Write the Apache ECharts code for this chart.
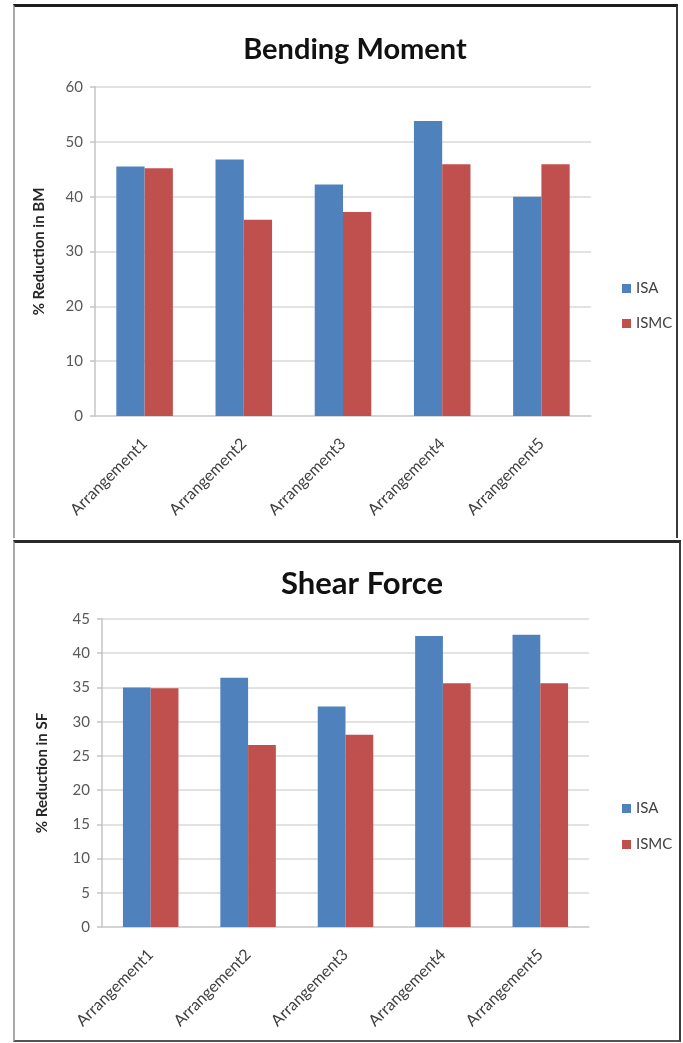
<!DOCTYPE html>
<html>
<head>
<meta charset="utf-8">
<script src="https://cdn.jsdelivr.net/npm/echarts@6/dist/echarts.min.js"></script>
<style>
  html, body { margin: 0; padding: 0; background: #ffffff; }
  body { width: 683px; height: 1043px; position: relative; overflow: hidden; }
  .panel { position: absolute; box-sizing: border-box; z-index: 0; }
  #p1 { left: 13px; top: 4px; width: 665px; height: 534px;
        border-top: 3px solid #1c1c1c; border-left: 2px solid #a8a8a8; border-right: 2px solid #3a3a3a; }
  #p2 { left: 13px; top: 540px; width: 668px; height: 502px;
        border-top: 3px solid #2a2a2a; border-left: 2px solid #a8a8a8; border-right: 2px solid #3a3a3a; border-bottom: 2px solid #555; }
  #chart { position: absolute; left: 0; top: 0; width: 683px; height: 1043px; z-index: 1; }
</style>
</head>
<body>
<div class="panel" id="p1"></div>
<div class="panel" id="p2"></div>
<div id="chart"></div>
<script>
// ---- data ----
var categories = ['Arrangement1', 'Arrangement2', 'Arrangement3', 'Arrangement4', 'Arrangement5'];
var seriesNames = ['ISA', 'ISMC'];
var bmISA  = [45.5, 46.8, 42.2, 53.8, 40.0];
var bmISMC = [45.2, 35.8, 37.2, 45.9, 45.9];
var sfISA  = [35.0, 36.4, 32.2, 42.5, 42.7];
var sfISMC = [34.9, 26.6, 28.1, 35.6, 35.6];
var bmTicks = { min: 0, max: 60, interval: 10 };
var sfTicks = { min: 0, max: 45, interval: 5 };
var titles = ['Bending Moment', 'Shear Force'];
var yNames = ['% Reduction in BM', '% Reduction in SF'];

var FONT = 'Lato, "Open Sans", sans-serif';
var BLUE = '#4F81BD', RED = '#C0504D';

function yAxis(idx, ticks, name, gap) {
  return {
    type: 'value', gridIndex: idx, min: ticks.min, max: ticks.max, interval: ticks.interval,
    name: name, nameLocation: 'middle', nameRotate: 90, nameGap: gap,
    nameTextStyle: { fontFamily: FONT, fontWeight: 'bold', fontSize: 15, color: '#262626' },
    axisLine: { show: true, lineStyle: { color: '#c4c4c4', width: 1.5 } },
    axisTick: { show: true, length: 5, lineStyle: { color: '#c4c4c4', width: 1.5 } },
    axisLabel: { fontFamily: FONT, fontSize: 15, color: '#595959', margin: 12 },
    splitLine: { show: true, lineStyle: { color: '#d9d9d9', width: 1.5 } }
  };
}
function xAxis(idx) {
  return {
    type: 'category', gridIndex: idx, data: categories,
    axisLine: { show: true, lineStyle: { color: '#d0d0d0', width: 1.5 } },
    axisTick: { show: false },
    axisLabel: { rotate: 45, fontFamily: FONT, fontSize: 16, color: '#404040', margin: 25, interval: 0 }
  };
}
function bar(name, data, idx, color) {
  return {
    type: 'bar', name: name, data: data, xAxisIndex: idx, yAxisIndex: idx,
    barGap: '0%', barCategoryGap: '43%', itemStyle: { color: color }
  };
}

var chart = echarts.init(document.getElementById('chart'), null, { renderer: 'canvas' });
chart.setOption({
  animation: false,
  title: [
    { text: titles[0], left: 350, top: 28, textAlign: 'center',
      textStyle: { fontFamily: FONT, fontWeight: 'bold', fontSize: 29, color: '#111', lineHeight: 34 } },
    { text: titles[1], left: 357, top: 562, textAlign: 'center',
      textStyle: { fontFamily: FONT, fontWeight: 'bold', fontSize: 31, color: '#111', lineHeight: 34 } }
  ],
  legend: [
    { data: seriesNames, orient: 'vertical', left: 617, top: 276, itemWidth: 9, itemHeight: 9, itemGap: 20,
      icon: 'rect', textStyle: { fontFamily: FONT, fontSize: 15, color: '#404040', lineHeight: 15 } },
    { data: seriesNames, orient: 'vertical', left: 617, top: 796, itemWidth: 9, itemHeight: 9, itemGap: 21,
      icon: 'rect', textStyle: { fontFamily: FONT, fontSize: 15, color: '#404040', lineHeight: 15 } }
  ],
  grid: [
    { left: 95, right: 92, top: 87, bottom: 627 },
    { left: 102, right: 94, top: 619, bottom: 116 }
  ],
  xAxis: [xAxis(0), xAxis(1)],
  yAxis: [yAxis(0, bmTicks, yNames[0], 48), yAxis(1, sfTicks, yNames[1], 52)],
  series: [
    bar(seriesNames[0], bmISA, 0, BLUE),
    bar(seriesNames[1], bmISMC, 0, RED),
    bar(seriesNames[0], sfISA, 1, BLUE),
    bar(seriesNames[1], sfISMC, 1, RED)
  ]
});
</script>
</body>
</html>
